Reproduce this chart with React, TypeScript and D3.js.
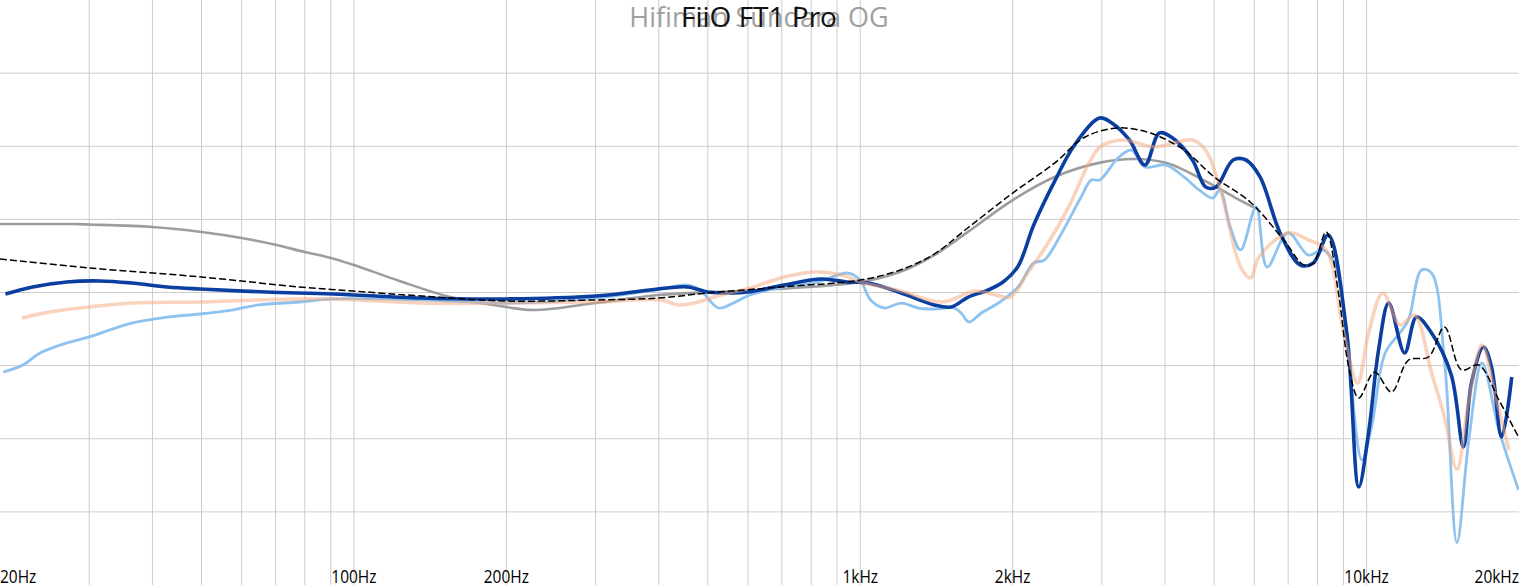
import React from 'react';
import * as d3 from 'd3';

type Pt = [number, number];

// frequency (Hz), level (dB, relative)
const sundaraOG: Pt[] = [
  [20, 4.68], [28, 4.68], [30, 4.65], [40, 4.48], [50, 4.14], [60, 3.73], [70, 3.26],
  [80, 2.77], [90, 2.36], [100, 1.88], [123, 0.79], [155, -0.31], [200, -0.99], [226, -1.2],
  [300, -0.72], [400, -0.17], [630, 0.17], [1000, 0.72], [1200, 1.42], [1400, 2.56],
  [1634, 4.16], [2000, 6.32], [2420, 7.9], [2977, 8.88], [3480, 9.13], [4030, 8.85],
  [4880, 7.49], [5520, 6.46], [6130, 5.64],
];

const target: Pt[] = [
  [20, 2.29], [30, 1.68], [50, 1.06], [78, 0.38], [100, 0.1], [136, -0.24], [200, -0.58],
  [300, -0.51], [400, -0.38], [500, -0.03], [700, 0.38], [1000, 0.85], [1200, 1.54],
  [1400, 2.63], [1630, 4.41], [2000, 6.8], [2420, 8.85], [2780, 10.63], [3230, 11.25],
  [3740, 10.9], [4360, 9.74], [5000, 7.9], [5890, 6.19], [6860, 3.59], [7520, 1.88],
  [7850, 2.0], [8320, 4.14], [8800, -0.03], [9220, -5.09], [9650, -7.21], [10370, -5.44],
  [11200, -6.8], [12100, -4.62], [13250, -4.41], [14250, -2.36], [15400, -5.3],
  [16650, -4.96], [18250, -7.35], [20000, -9.95],
];

const ft1Left: Pt[] = [
  [20.3, -5.44], [22.2, -4.96], [24, -4.14], [27.1, -3.45], [30, -3.04], [36.4, -2.09],
  [42.8, -1.68], [49.7, -1.47], [57.4, -1.2], [64.8, -0.85], [78, -0.65], [91, -0.44],
  [136, -0.51], [200, -0.72], [300, -0.38], [404, 0.24], [456, 0.51], [483, 0.17],
  [525, -1.06], [562, -0.72], [606, -0.17], [707, 0.38], [812, 0.65], [947, 1.33],
  [1000, 0.85], [1048, -0.51], [1116, -1.06], [1205, -0.72], [1301, -1.06], [1400, -1.13],
  [1533, -1.06], [1582, -1.4], [1640, -2.02], [1735, -1.4], [1888, -0.65], [2050, 0.38],
  [2200, 2.02], [2310, 2.22], [2500, 4.07], [2730, 6.53], [2860, 7.69], [2970, 7.69],
  [3230, 9.2], [3430, 9.74], [3650, 8.58], [4010, 8.72], [4360, 7.9], [4670, 7.01],
  [4970, 6.46], [5130, 7.01], [5380, 4.48], [5640, 2.91], [6050, 5.85], [6360, 1.74],
  [6990, 4.07], [7680, 2.56], [8200, 2.91], [8700, 1.74], [9140, -3.25], [9790, -11.45],
  [10230, -9.2], [10880, -4.14], [11630, -2.77], [12100, -1.88], [12840, 1.54],
  [13440, 1.33], [14250, -4.62], [15080, -17.1], [15920, -10.09], [16900, -4.82],
  [18250, -9.4], [19960, -13.5],
];

const ft1Right: Pt[] = [
  [22.1, -1.74], [25.1, -1.33], [30, -0.99], [36.4, -0.72], [49.7, -0.65], [64, -0.51],
  [91, -0.44], [136, -0.72], [200, -0.72], [300, -0.65], [404, -0.51], [437, -0.85],
  [470, -0.72], [531, -0.17], [606, 0.31], [707, 1.06], [812, 1.4], [920, 1.2],
  [1000, 0.72], [1205, 0.1], [1450, -0.65], [1685, 0.1], [1850, -0.17], [1980, -0.31],
  [2140, 1.33], [2350, 3.38], [2580, 5.85], [2830, 8.85], [2977, 9.95], [3310, 10.43],
  [3800, 9.95], [4530, 10.43], [4810, 9.74], [5130, 7.21], [5640, 1.74], [5900, 0.99],
  [6130, 2.43], [6990, 4.07], [7680, 3.59], [8320, 2.91], [9010, -2.77], [9600, -6.19],
  [10090, -2.77], [10770, -0.03], [11650, -2.22], [12430, -1.54], [13440, -5.5],
  [14250, -8.51], [15080, -12.1], [15920, -7.35], [16900, -3.59], [17920, -6.87],
  [19100, -10.77],
];

const ft1Avg: Pt[] = [
  [20.5, -0.1], [23.2, 0.38], [27.1, 0.72], [31.5, 0.79], [36.4, 0.65], [42.8, 0.38],
  [49.7, 0.24], [67, 0.03], [91, -0.1], [136, -0.38], [200, -0.44], [300, -0.24],
  [356, 0.03], [416, 0.31], [456, 0.38], [500, 0.03], [531, -0.03], [600, 0.03],
  [707, 0.51], [838, 0.92], [940, 0.72], [1037, 0.65], [1205, -0.03], [1400, -0.85],
  [1512, -0.99], [1634, -0.31], [1790, 0.17], [1920, 0.75], [2050, 1.8], [2200, 4.6],
  [2420, 7.6], [2650, 10.09], [2970, 11.93], [3140, 11.59], [3400, 10.43], [3650, 8.72],
  [3900, 10.91], [4140, 10.56], [4530, 9.06], [4810, 7.21], [5040, 7.21], [5450, 9.06],
  [5780, 9.06], [6160, 7.9], [6750, 4.07], [7400, 1.88], [7850, 2.02], [8400, 3.93],
  [9140, -2.77], [9650, -13.3], [10090, -9.6], [10560, -3.93], [11060, -0.72],
  [11890, -4.14], [12550, -1.68], [13440, -2.77], [14700, -5.64], [15530, -10.56],
  [16110, -6.19], [17020, -3.73], [17650, -5.09], [18480, -9.88], [19350, -5.78],
];

const tickFreqs = [20, 100, 200, 1000, 2000, 10000, 20000];
const tickLabels = ['20Hz', '100Hz', '200Hz', '1kHz', '2kHz', '10kHz', '20kHz'];
const gridFreqs = [
  30, 40, 50, 60, 70, 80, 90, 100, 200, 300, 400, 500, 600, 700, 800, 900,
  1000, 2000, 3000, 4000, 5000, 6000, 7000, 8000, 9000, 10000,
];
const gridDb = [-15, -10, -5, 0, 5, 10, 15];

const W = 1519;
const H = 585;

export default function App() {
  const x = d3.scaleLog().domain([20, 20000]).range([0, W]);
  const y = d3.scaleLinear().domain([-20, 20]).range([H, 0]);
  const line = d3
    .line<Pt>()
    .x(d => x(d[0]))
    .y(d => y(d[1]))
    .curve(d3.curveCatmullRom.alpha(0.5));

  return (
    <svg
      width={W}
      height={H}
      style={{ position: 'absolute', left: 0, top: 0, background: '#fff' }}
      fontFamily="'Open Sans', sans-serif"
    >
      <g stroke="#cccccc" strokeWidth={1}>
        {gridFreqs.map(f => (
          <line key={f} x1={x(f)} x2={x(f)} y1={0} y2={H} />
        ))}
        {gridDb.map(v => (
          <line key={v} x1={0} x2={W} y1={y(v)} y2={y(v)} />
        ))}
      </g>

      <path d={line(sundaraOG) ?? ''} fill="none" stroke="#8c8c8c" strokeOpacity={0.85} strokeWidth={2.6} />
      <path d={line(ft1Left) ?? ''} fill="none" stroke="#8ec2ef" strokeWidth={2.8} />
      <path d={line(ft1Avg) ?? ''} fill="none" stroke="#0b3f9f" strokeWidth={3.6} />
      <path d={line(ft1Right) ?? ''} fill="none" stroke="#f4a77c" strokeOpacity={0.5} strokeWidth={3.6} />
      <path d={line(target) ?? ''} fill="none" stroke="#000" strokeWidth={1.5} strokeDasharray="7 3" />

      <g fontSize={18} fill="#000">
        {tickFreqs.map((f, i) => {
          const px = x(f);
          const anchor = i === 0 ? 'start' : i === tickFreqs.length - 1 ? 'end' : 'middle';
          return (
            <text key={f} x={px} y={583} textAnchor={anchor} transform={`translate(${px},0) scale(0.86,1) translate(${-px},0)`}>
              {tickLabels[i]}
            </text>
          );
        })}
      </g>

      <g textAnchor="middle">
        <text x={759} y={27} fontSize={27} fill="#a0a0a0">Hifiman Sundara OG</text>
        <text x={759} y={27} fontSize={28} fill="#111">FiiO FT1 Pro</text>
      </g>
    </svg>
  );
}
